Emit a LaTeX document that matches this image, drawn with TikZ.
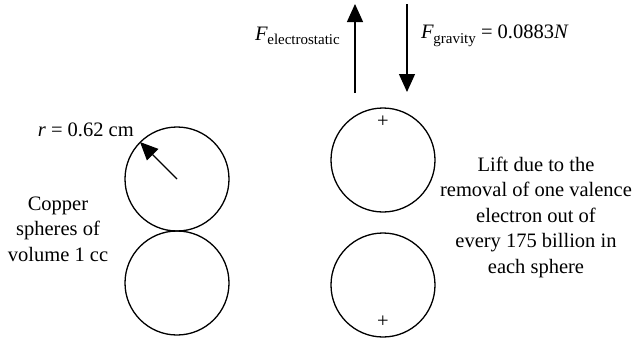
\documentclass[tikz,border=0pt]{standalone}
\usepackage{fontspec}
\setmainfont{Liberation Serif}
\usetikzlibrary{arrows.meta}
\newcommand{\subtx}[1]{\kern-0.5pt\raisebox{-4.5pt}{\fontsize{15}{15}\selectfont #1}}
\begin{document}
\begin{tikzpicture}[x=1pt,y=-1pt,
  ball/.style={circle,draw,line width=1.3pt,minimum size=104pt,inner sep=0pt},
  force/.style={line width=1.3pt,-{Triangle[length=18pt,width=16pt]}},
  lbl/.style={font=\fontsize{20.5}{25.5}\selectfont,align=center,inner sep=0pt}]
\useasboundingbox (0,0) rectangle (638,338);
\node[ball] (c1) at (177,179) {};
\node[ball] (c2) at (177,283) {};
\node[ball] (c3) at (383,160) {};
\node[ball] (c4) at (383,285) {};
\coordinate (e1) at (140,142);
\draw[force] (c1.center) -- (e1);
\node[lbl,anchor=east] (r) at (134,130) {\textit{r} = 0.62 cm};
\node[lbl] (cu) at (58,229) {Copper\\spheres of\\volume 1 cc};
\node[lbl] (p1) at (383,122) {+};
\node[lbl] (p2) at (383,322) {+};
\coordinate (ua) at (355,93);
\coordinate (ub) at (355,4);
\coordinate (da) at (407,4);
\coordinate (db) at (407,92);
\draw[force] (ua) -- (ub);
\draw[force] (da) -- (db);
\node[lbl,anchor=east] (fe) at (340,36) {\textit{F}\subtx{electrostatic}};
\node[lbl,anchor=west] (fg) at (421,36) {\textit{F}\subtx{gravity} = 0.0883\textit{N}};
\node[lbl] (lift) at (536,217) {Lift due to the\\removal of one valence\\electron out of\\every 175 billion in\\each sphere};
\end{tikzpicture}
\end{document}
